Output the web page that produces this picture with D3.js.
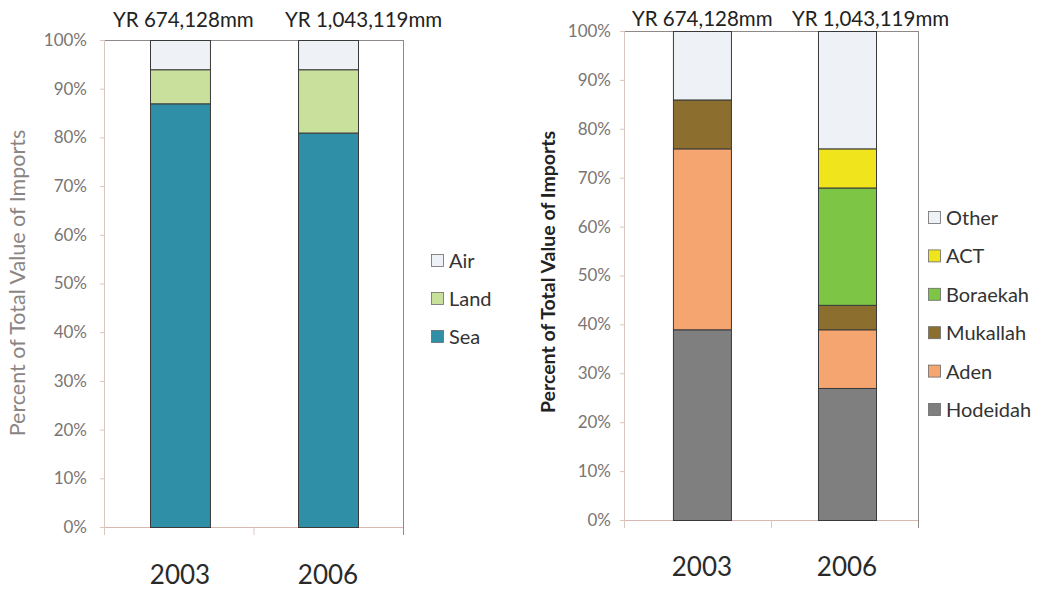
<!DOCTYPE html>
<html><head><meta charset="utf-8">
<script src="https://cdn.jsdelivr.net/npm/d3@7"></script>
<style>body{margin:0;background:#fff}svg{display:block}text{font-family:Lato,"Open Sans",sans-serif}</style>
</head><body><svg id="c" width="1044" height="591"></svg>
<script>
const years = ["2003", "2006"];
const totals = ["YR 674,128mm", "YR 1,043,119mm"];
const modeKeys = ["Sea", "Land", "Air"];
const modeSea = [87, 81];
const modeLand = [7, 13];
const modeAir = [6, 6];
const modeColors = ["#2f8fa6", "#c8e09c", "#eef1f5"];
const portKeys = ["Hodeidah", "Aden", "Mukallah", "Boraekah", "ACT", "Other"];
const portHodeidah = [39, 27];
const portAden = [37, 12];
const portMukallah = [10, 5];
const portBoraekah = [0, 24];
const portACT = [0, 8];
const portOther = [14, 24];
const portColors = ["#7f7f7f", "#f5a56f", "#8c6e2f", "#7dc545", "#f0e51c", "#eef1f5"];
const yTicks = [0, 10, 20, 30, 40, 50, 60, 70, 80, 90, 100];

const svg = d3.select("#c");

function panel(cfg) {
  const rows = years.map((y, i) => {
    const r = {year: y};
    cfg.keys.forEach((k, j) => r[k] = cfg.series[j][i]);
    return r;
  });
  const stack = d3.stack().keys(cfg.keys)(rows);
  const y = d3.scaleLinear().domain([0, 100]).range([cfg.bottom, cfg.top]);
  const x = d3.scaleBand().domain(years).range([cfg.left, cfg.right])
    .paddingInner(cfg.padIn).paddingOuter(cfg.padOut).align(cfg.align);
  const g = svg.append("g");

  g.append("line").attr("x1", cfg.left - 5).attr("x2", cfg.right).attr("y1", cfg.top + 0.5).attr("y2", cfg.top + 0.5).attr("stroke", "#8f8a88");
  g.append("line").attr("x1", cfg.right + 0.5).attr("x2", cfg.right + 0.5).attr("y1", cfg.top).attr("y2", cfg.bottom + 8).attr("stroke", "#8f8a88");

  const ya = g.append("g").attr("transform", `translate(${cfg.left},0)`)
    .call(d3.axisLeft(y).tickValues(yTicks).tickFormat(d => d + "%").tickSize(5).tickPadding(cfg.tickPad));
  ya.select(".domain").attr("stroke", "#d8c8c0").attr("d", `M-0.5,${cfg.top}V${cfg.bottom + 8}`);
  ya.selectAll(".tick line").attr("stroke", "#d8c8c0");
  ya.selectAll(".tick text").attr("fill", "#7a7573").style("font-size", "17px").style("font-family", "Lato, sans-serif");

  g.append("line").attr("x1", cfg.left).attr("x2", cfg.right).attr("y1", cfg.bottom + 0.5).attr("y2", cfg.bottom + 0.5).attr("stroke", "#d8b8b0");
  g.append("line").attr("x1", (cfg.left + cfg.right) / 2).attr("x2", (cfg.left + cfg.right) / 2).attr("y1", cfg.bottom).attr("y2", cfg.bottom + 8).attr("stroke", "#d8c8c0");

  stack.forEach((s, j) => {
    g.selectAll(null).data(s.filter(d => d[1] - d[0] > 0)).join("rect")
      .attr("x", d => x(d.data.year) + 0.5)
      .attr("width", x.bandwidth())
      .attr("y", d => y(d[1]) + 0.5)
      .attr("height", d => y(d[0]) - y(d[1]))
      .attr("fill", cfg.colors[j])
      .attr("stroke", "#3a3a3a")
      .attr("stroke-width", 1);
  });

  g.selectAll(null).data(years).join("text")
    .attr("x", (d, i) => x(d) + cfg.totDx[i]).attr("y", cfg.totY)
    .attr("text-anchor", "start").attr("fill", "#222").style("font-size", "20.5px")
    .text((d, i) => totals[i]);

  g.selectAll(null).data(years).join("text")
    .attr("x", d => x(d) + x.bandwidth() / 2).attr("y", cfg.xLabY)
    .attr("text-anchor", "middle").attr("fill", "#2a2a2a").style("font-size", "26px")
    .text(d => d);

  g.append("text").attr("transform", `translate(${cfg.ytX},${cfg.ytY}) rotate(-90)`)
    .attr("text-anchor", "middle").attr("fill", cfg.ytColor).style("font-size", cfg.ytSize).style("font-weight", cfg.ytWeight)
    .text("Percent of Total Value of Imports");

  const lk = cfg.keys.slice().reverse();
  const lc = cfg.colors.slice().reverse();
  lk.forEach((k, i) => {
    const yy = cfg.legY + i * cfg.legStep;
    g.append("rect").attr("x", cfg.legX + 0.5).attr("y", yy - 6.5).attr("width", 12).attr("height", 12)
      .attr("fill", lc[i]).attr("stroke", "#6a6a6a").attr("stroke-width", 0.8);
    g.append("text").attr("x", cfg.legX + 18).attr("y", yy + 7).attr("fill", "#333").style("font-size", "20px").text(k);
  });
}

panel({
  keys: modeKeys, series: [modeSea, modeLand, modeAir], colors: modeColors,
  left: 105, right: 403, top: 40, bottom: 527, padIn: 0.595, padOut: 0.304, align: 0.5, tickPad: 13,
  totY: 27, totDx: [-37, -13], xLabY: 584, ytX: 25, ytY: 283, ytColor: "#8a8583", ytWeight: "normal", ytSize: "21.5px",
  legX: 431, legY: 261, legStep: 38
});
panel({
  keys: portKeys, series: [portHodeidah, portAden, portMukallah, portBoraekah, portACT, portOther], colors: portColors,
  left: 625, right: 918, top: 31, bottom: 520, padIn: 0.6, padOut: 0.31, align: 0.533, tickPad: 9,
  totY: 26, totDx: [-41, -26], xLabY: 576, ytX: 555, ytY: 272, ytColor: "#222", ytWeight: "bold", ytSize: "19.5px",
  legX: 928, legY: 218, legStep: 38.4
});
</script></body></html>
